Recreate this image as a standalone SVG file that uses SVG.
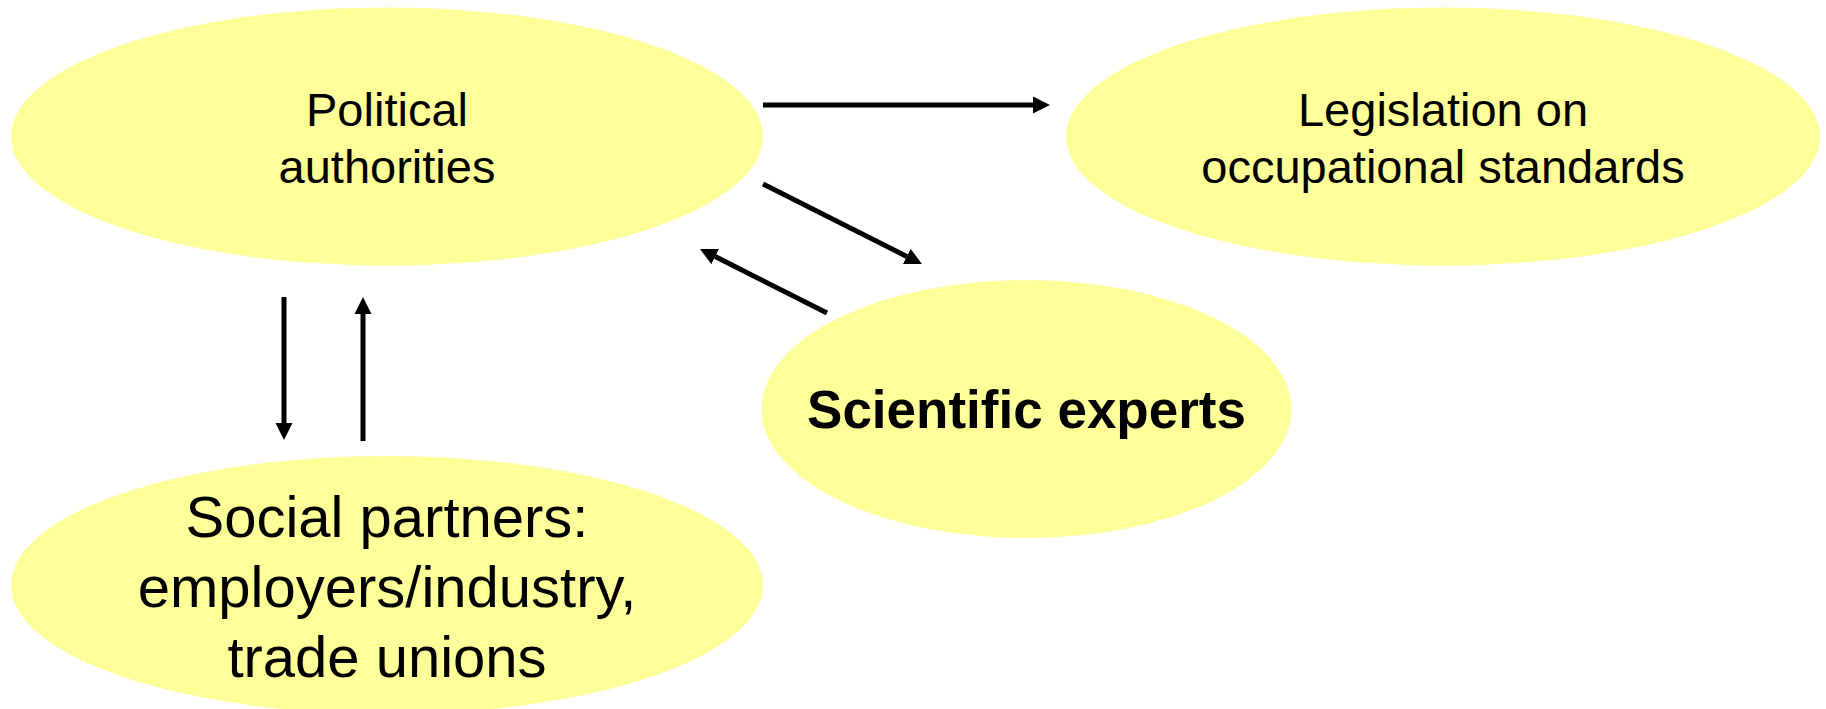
<svg xmlns="http://www.w3.org/2000/svg" width="1826" height="709" viewBox="0 0 1826 709">
  <style>
    .node { fill: #FFFF99; stroke: none; }
    .lbl { font-family: "Liberation Sans", Arial, sans-serif; fill: #000; text-anchor: middle; }
    .conn { stroke: #000; stroke-width: 5; fill: none; }
  </style>
  <defs>
    <marker id="arrow" markerUnits="userSpaceOnUse" markerWidth="18" markerHeight="18" viewBox="0 -9 18 18" refX="0" refY="0" orient="auto">
      <path d="M0,-8.5 L17,0 L0,8.5 z" fill="#000"/>
    </marker>
  </defs>
  <rect width="1826" height="709" fill="#fff"/>
  <g id="political">
    <ellipse class="node" cx="387" cy="136.5" rx="376" ry="129"/>
    <text class="lbl" font-size="47" x="387" y="126">Political</text>
    <text class="lbl" font-size="47" x="387" y="183">authorities</text>
  </g>
  <g id="legislation">
    <ellipse class="node" cx="1443" cy="136.5" rx="377" ry="129"/>
    <text class="lbl" font-size="47" x="1443" y="126">Legislation on</text>
    <text class="lbl" font-size="47" x="1443" y="183">occupational standards</text>
  </g>
  <g id="scientific">
    <ellipse class="node" cx="1026.5" cy="409" rx="265" ry="129"/>
    <text class="lbl" font-size="53" font-weight="bold" x="1026.5" y="428">Scientific experts</text>
  </g>
  <g id="social">
    <ellipse class="node" cx="387" cy="585" rx="376" ry="129"/>
    <text class="lbl" font-size="58" x="387" y="537">Social partners:</text>
    <text class="lbl" font-size="58" x="387" y="607">employers/industry,</text>
    <text class="lbl" font-size="58" x="387" y="677">trade unions</text>
  </g>
  <g id="connectors">
    <line class="conn" x1="763" y1="105" x2="1033" y2="105" marker-end="url(#arrow)"/>
    <line class="conn" x1="763" y1="184" x2="906.8" y2="256.4" marker-end="url(#arrow)"/>
    <line class="conn" x1="827" y1="313" x2="715.2" y2="256.6" marker-end="url(#arrow)"/>
    <line class="conn" x1="284" y1="297" x2="284" y2="423" marker-end="url(#arrow)"/>
    <line class="conn" x1="363" y1="441" x2="363" y2="314" marker-end="url(#arrow)"/>
  </g>
</svg>
